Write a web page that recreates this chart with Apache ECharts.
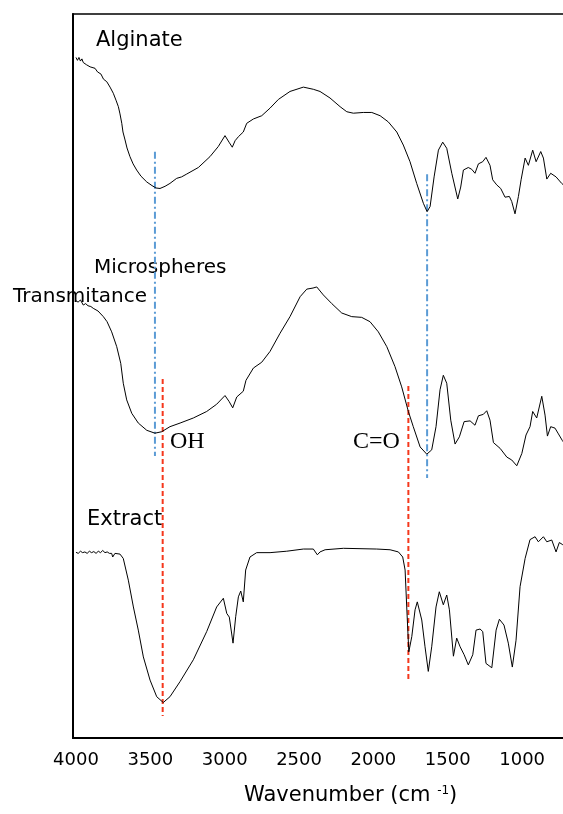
<!DOCTYPE html>
<html>
<head>
<meta charset="utf-8">
<script src="https://cdn.jsdelivr.net/npm/echarts@6/dist/echarts.min.js"></script>
<style>
html,body{margin:0;padding:0;background:#fff;}
#chart{width:563px;height:814px;}
</style>
</head>
<body>
<div id="chart"></div>
<script>
// Wavenumber tick labels (cm-1)
var xTicks = [4000, 3500, 3000, 2500, 2000, 1500, 1000];

// Spectra: [wavenumber, relative transmittance (offset, arbitrary units)]
var alginate = [
[4000,94.0],[3990,93.6],[3980,94.0],[3970,93.5],[3960,93.8],[3951,93.3],[3940,93.5],[3930,93.0],[3919,93.2],[3905,92.7],[3895,92.9],[3872,92.5],[3855,92.0],[3832,91.7],[3815,91.0],[3793,90.65],[3771,89.9],[3749,89.05],[3731,88.1],[3715,87.2],[3704,86.2],[3692,84.9],[3684,83.7],[3670,82.6],[3657,81.5],[3637,80.3],[3616,79.3],[3592,78.45],[3563,77.6],[3524,76.8],[3489,76.3],[3462,75.97],[3435,75.9],[3401,76.2],[3368,76.6],[3323,77.3],[3290,77.5],[3255,77.9],[3177,78.8],[3099,80.3],[3043,81.7],[2998,83.2],[2971,82.3],[2949,81.6],[2930,82.5],[2908,83.05],[2875,83.7],[2852,84.9],[2807,85.5],[2751,85.95],[2695,87.0],[2639,88.2],[2561,89.3],[2471,89.9],[2404,89.6],[2359,89.3],[2292,88.4],[2224,87.2],[2179,86.5],[2135,86.3],[2068,86.4],[2011,86.4],[1955,85.95],[1900,85.1],[1843,83.7],[1799,81.9],[1754,79.6],[1709,76.6],[1664,73.85],[1639,72.7],[1619,73.4],[1592,77.5],[1563,81.2],[1534,82.3],[1507,81.45],[1473,78.0],[1433,74.45],[1413,76.1],[1395,78.45],[1362,78.8],[1339,78.55],[1317,78.0],[1294,79.3],[1265,79.6],[1243,80.2],[1216,79.1],[1198,77.1],[1171,76.4],[1144,75.9],[1115,74.7],[1086,74.8],[1070,74.1],[1048,72.4],[1025,74.8],[1007,77.1],[980,80.1],[958,79.1],[929,81.2],[906,79.6],[875,81.0],[857,80.1],[834,77.2],[808,78.0],[772,77.5],[734,76.6],[712,76.2]
];

var microspheres = [
[4000,60.4],[3986,60.2],[3970,60.5],[3951,59.8],[3935,60.0],[3919,59.7],[3900,59.6],[3884,59.35],[3852,58.98],[3816,58.2],[3791,57.5],[3760,56.1],[3726,54.05],[3699,51.75],[3682,49.0],[3659,46.7],[3625,44.85],[3581,43.5],[3524,42.5],[3469,42.1],[3424,42.3],[3368,43.0],[3300,43.5],[3211,44.2],[3121,45.1],[3054,46.1],[2998,47.3],[2971,46.5],[2946,45.6],[2919,47.1],[2875,47.9],[2857,49.4],[2807,51.1],[2751,51.9],[2695,53.4],[2628,55.9],[2561,58.2],[2493,60.95],[2448,62.0],[2406,62.15],[2381,62.3],[2337,61.2],[2280,60.0],[2213,58.7],[2146,58.2],[2079,58.1],[2023,57.5],[1967,56.1],[1910,54.05],[1855,51.3],[1810,48.5],[1765,45.1],[1732,43.0],[1686,40.2],[1641,39.2],[1608,39.8],[1579,43.0],[1552,48.1],[1530,50.1],[1507,49.0],[1480,43.9],[1451,40.6],[1422,41.6],[1390,43.7],[1350,43.8],[1317,43.2],[1294,44.5],[1261,44.7],[1238,45.2],[1216,43.9],[1193,40.8],[1148,40.0],[1103,38.8],[1070,38.4],[1036,37.6],[1002,39.3],[974,41.85],[947,43.0],[929,45.1],[902,44.2],[868,47.2],[846,44.6],[830,41.7],[808,43.0],[779,42.8],[756,42.0],[730,41.1],[712,40.6]
];

var extract = [
[4000,25.65],[3985,25.5],[3970,25.8],[3955,25.6],[3940,25.7],[3925,25.5],[3910,25.8],[3895,25.6],[3880,25.75],[3865,25.5],[3850,25.8],[3835,25.6],[3820,25.9],[3805,25.6],[3790,25.7],[3775,25.5],[3760,25.5],[3753,25.0],[3738,25.5],[3704,25.4],[3682,24.8],[3648,21.8],[3614,18.1],[3581,14.9],[3547,11.2],[3502,8.0],[3457,5.7],[3413,4.9],[3368,5.7],[3300,7.8],[3211,10.8],[3121,14.7],[3054,18.1],[3009,19.3],[2986,17.2],[2969,16.7],[2944,13.1],[2926,16.75],[2908,19.5],[2892,20.3],[2875,18.8],[2859,23.2],[2830,25.0],[2785,25.6],[2695,25.6],[2583,25.8],[2471,26.1],[2404,26.1],[2377,25.3],[2359,25.7],[2325,26.0],[2202,26.2],[1978,26.1],[1888,26.0],[1832,25.7],[1803,25.0],[1787,23.2],[1776,18.1],[1762,11.9],[1742,14.0],[1720,17.7],[1705,18.8],[1675,16.3],[1653,12.6],[1631,9.2],[1608,12.6],[1579,18.1],[1557,20.2],[1530,18.4],[1507,19.75],[1489,17.7],[1462,11.3],[1440,13.8],[1417,12.6],[1390,11.5],[1362,10.1],[1332,11.5],[1310,14.9],[1283,15.05],[1265,14.7],[1243,10.3],[1204,9.7],[1175,14.9],[1153,16.4],[1122,15.6],[1093,13.1],[1066,9.8],[1041,13.5],[1014,20.9],[980,24.8],[947,27.4],[913,27.8],[891,27.1],[857,27.8],[834,27.1],[801,27.35],[772,25.7],[750,27.0],[727,26.7],[712,26.8]
];

// Band marker lines: [wavenumber, y-start, y-end]
var blueMarks = [[3469, 80.98, 38.95], [1639, 77.86, 35.91]];
var redMarks = [[3417, 49.59, 3.04], [1765, 48.62, 8.15]];

// Text labels
var curveNames = ['Alginate', 'Microspheres', 'Extract'];
var bandNames = ['OH', 'C=O'];
var yTitle = 'Transmitance';

function markSeries(marks, color, dash) {
  return marks.map(function (m) {
    return {
      type: 'line', data: [[m[0], m[1]], [m[0], m[2]]],
      symbol: 'none', silent: true, z: 1,
      lineStyle: { color: color, width: 2, type: dash }
    };
  });
}

var chart = echarts.init(document.getElementById('chart'));
var spectrumStyle = { color: '#000', width: 1 };
var series = [].concat(
  markSeries(blueMarks, '#5b9bd5', [7, 3, 2, 3]),
  markSeries(redMarks, '#f5371c', [5, 3]),
  [alginate, microspheres, extract].map(function (d) {
    return { type: 'line', data: d, symbol: 'none', lineStyle: spectrumStyle, z: 3, silent: true };
  })
);

var font = 'DejaVu Sans';
chart.setOption({
  animation: false,
  backgroundColor: '#fff',
  grid: { left: 73, top: 14, width: 523.5, height: 724, outerBoundsMode: 'none', containLabel: false, show: true, borderColor: '#000', borderWidth: 1.5, backgroundColor: 'transparent' },
  xAxis: {
    type: 'value', inverse: true, min: 500, max: 4020, interval: 500,
    axisLine: { show: true, onZero: false, lineStyle: { color: '#000', width: 2 } },
    axisTick: { show: false },
    splitLine: { show: false },
    axisLabel: {
      color: '#000', fontFamily: font, fontSize: 18, margin: 13,
      showMaxLabel: false,
      formatter: function (v) { return xTicks.indexOf(v) >= 0 ? String(v) : ''; }
    }
  },
  yAxis: {
    type: 'value', min: 0, max: 100,
    axisLine: { show: true, lineStyle: { color: '#000', width: 2 } },
    axisTick: { show: false }, axisLabel: { show: false }, splitLine: { show: false }
  },
  graphic: [
    { type: 'text', left: 96, top: 30, style: { text: curveNames[0], font: '21px "DejaVu Sans"', fill: '#000' } },
    { type: 'text', left: 94, top: 258, style: { text: curveNames[1], font: '20px "DejaVu Sans"', fill: '#000' } },
    { type: 'text', left: 13, top: 287, z: 10, style: { text: yTitle, font: '20px "DejaVu Sans"', fill: '#000' } },
    { type: 'text', left: 87, top: 509, style: { text: curveNames[2], font: '21px "DejaVu Sans"', fill: '#000' } },
    { type: 'text', left: 170, top: 430, style: { text: bandNames[0], font: '24px "Liberation Serif"', fill: '#000' } },
    { type: 'text', left: 353, top: 430, style: { text: bandNames[1], font: '24px "Liberation Serif"', fill: '#000' } },
    { type: 'text', left: 244, top: 785, style: {
        text: '{a|Wavenumber (cm }{s|-1}{a|)}', fill: '#000',
        rich: { a: { fontFamily: font, fontSize: 21, verticalAlign: 'bottom' }, s: { fontFamily: font, fontSize: 12, verticalAlign: 'top' } }
    } }
  ],
  series: series
});
</script>
</body>
</html>
